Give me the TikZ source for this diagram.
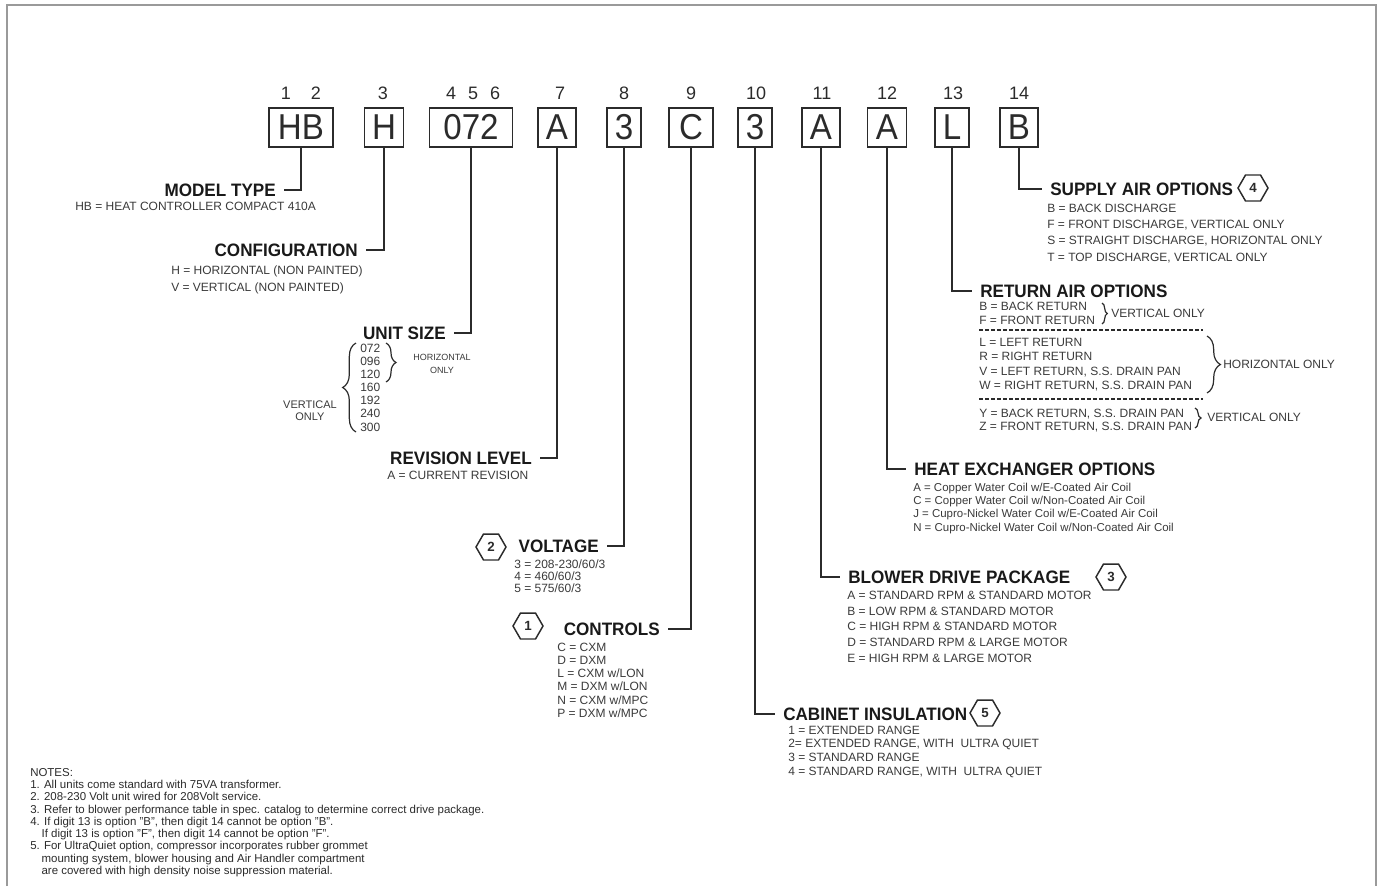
\documentclass[tikz,border=0pt]{standalone}
\usepackage{fontspec}
\setmainfont{Liberation Sans}
\newfontfamily\condfont{Liberation Sans}[FakeStretch=0.92]
\newfontfamily\headfont{Liberation Sans}[FakeStretch=0.95]
\usetikzlibrary{shapes.geometric,decorations.pathreplacing}
\definecolor{ink}{HTML}{2B2B2B}
\definecolor{txt}{HTML}{3A3A3A}
\definecolor{rule}{HTML}{9A9A9A}
\newcommand\px{0.75pt}

\begin{document}
\begin{tikzpicture}[
  x=0.75pt, y=-0.75pt,
  lead/.style={draw=ink, line width=1.4pt},
  codebox/.style={draw=ink, line width=1.3pt, minimum height=39*\px,
    inner sep=0pt, text=ink, font=\condfont\fontsize{27}{27}\selectfont},
  digitlabel/.style={inner sep=0pt, text=ink, font=\fontsize{13.5}{14}\selectfont},
  head/.style={inner xsep=6pt, inner ysep=0pt, text=black!90,
    font=\headfont\bfseries\fontsize{13.5}{16}\selectfont},
  sub/.style={anchor=north west, align=left, inner sep=0pt, text=txt,
    font=\fontsize{9}{#1}\selectfont},
  sub/.default=12,
  hexmark/.style={regular polygon, regular polygon sides=6, draw=ink,
    line width=1.1pt, minimum size=30*\px, inner sep=0pt, text=ink,
    font=\bfseries\fontsize{10}{10}\selectfont},
  curly/.style={draw=ink, line width=0.9pt, decorate,
    decoration={brace, amplitude=#1}},
  sep/.style={draw=ink, line width=1pt, dash pattern=on 3pt off 1.5pt}
]
\useasboundingbox (0,0) rectangle (1377,886);
\draw[rule, line width=1.5pt] (7,886) -- (7,5) -- (1376,5) -- (1376,886);

% digit positions
\foreach \n/\x in {1/286,2/316,3/383,4/451,5/473,6/495,7/560,8/624,
    9/691,10/756,11/822,12/887,13/953,14/1019}
  \node[digitlabel] (n\n) at (\x,93) {\n};

\node[codebox, minimum width=64*\px] (b1) at (301,127.5) {HB};
\node[codebox, minimum width=39*\px] (b3) at (384,127.5) {H};
\node[codebox, minimum width=83*\px] (b4) at (471,127.5) {072};
\node[codebox, minimum width=38*\px] (b7) at (557,127.5) {A};
\node[codebox, minimum width=34*\px] (b8) at (624,127.5) {3};
\node[codebox, minimum width=44*\px] (b9) at (691,127.5) {C};
\node[codebox, minimum width=34*\px] (b10) at (755,127.5) {3};
\node[codebox, minimum width=38*\px] (b11) at (821,127.5) {A};
\node[codebox, minimum width=39*\px] (b12) at (887,127.5) {A};
\node[codebox, minimum width=34*\px] (b13) at (952,127.5) {L};
\node[codebox, minimum width=38*\px] (b14) at (1019,127.5) {B};

% left hand headings
\node[head, anchor=east] (model) at (284,190) {MODEL TYPE};
\node[sub] (model-sub) at (75,201.6) {HB = HEAT CONTROLLER COMPACT 410A};

\node[head, anchor=east] (config) at (366,250) {CONFIGURATION};
\node[sub=12.75] (config-sub) at (171,265.6)
  {H = HORIZONTAL (NON PAINTED)\\V = VERTICAL (NON PAINTED)};

\node[head, anchor=east] (usize) at (454,333) {UNIT SIZE};
\node[sub=9.86] (usize-sub) at (360,343.6)
  {072\\096\\120\\160\\192\\240\\300};
\draw[curly=7.5pt] (386,343) -- (386,382);
\draw[curly=10pt] (356,432) -- (356,343);
\node[align=center, inner sep=0pt, text=txt, font=\fontsize{6.75}{9.75}\selectfont]
  (horiz) at (442,364) {HORIZONTAL\\ONLY};
\node[align=center, inner sep=0pt, text=txt, font=\fontsize{8.25}{9}\selectfont]
  (vert) at (310,411) {VERTICAL\\ONLY};

\node[head, anchor=east] (revision) at (540,458) {REVISION LEVEL};
\node[sub] (revision-sub) at (387,470.6) {A = CURRENT REVISION};

\node[head, anchor=east] (voltage) at (607,546) {VOLTAGE};
\node[hexmark] (hx2) at (491,547) {2};
\node[sub=9] (voltage-sub) at (514,559.6)
  {3 = 208-230/60/3\\4 = 460/60/3\\5 = 575/60/3};

\node[head, anchor=east] (controls) at (668,629) {CONTROLS};
\node[hexmark] (hx1) at (528,626) {1};
\node[sub=9.9] (controls-sub) at (557,642.6)
  {C = CXM\\D = DXM\\L = CXM w/LON\\M = DXM w/LON\\N = CXM w/MPC\\P = DXM w/MPC};

% right hand headings
\node[head, anchor=west] (cabinet) at (775,714) {CABINET INSULATION};
\node[hexmark] (hx5) at (985,713) {5};
\node[sub=10.3] (cabinet-sub) at (788,725.6)
  {1 = EXTENDED RANGE\\2= EXTENDED RANGE, WITH~ ULTRA QUIET\\
   3 = STANDARD RANGE\\4 = STANDARD RANGE, WITH~ ULTRA QUIET};

\node[head, anchor=west] (blower) at (840,577) {BLOWER DRIVE PACKAGE};
\node[hexmark] (hx3) at (1111,577) {3};
\node[sub=11.85] (blower-sub) at (847,590.6)
  {A = STANDARD RPM \& STANDARD MOTOR\\B = LOW RPM \& STANDARD MOTOR\\
   C = HIGH RPM \& STANDARD MOTOR\\D = STANDARD RPM \& LARGE MOTOR\\
   E = HIGH RPM \& LARGE MOTOR};

\node[head, anchor=west] (heatex) at (906,469) {HEAT EXCHANGER OPTIONS};
\node[sub=10, font=\fontsize{8.6}{10}\selectfont] (heatex-sub) at (913,482.6)
  {A = Copper Water Coil w/E-Coated Air Coil\\
   C = Copper Water Coil w/Non-Coated Air Coil\\
   J = Cupro-Nickel Water Coil w/E-Coated Air Coil\\
   N = Cupro-Nickel Water Coil w/Non-Coated Air Coil};

\node[head, anchor=west] (retair) at (972,291) {RETURN AIR OPTIONS};
\node[sub=10.5] (retair-a) at (979,301.6) {B = BACK RETURN\\F = FRONT RETURN};
\draw[curly=4pt] (1102,303) -- (1102,324);
\node[anchor=west, inner sep=0pt, text=txt, font=\fontsize{9}{9}\selectfont]
  (retair-va) at (1111,313) {VERTICAL ONLY};
\coordinate (sepa-l) at (979,330);
\coordinate (sepa-r) at (1203,330);
\draw[sep] (sepa-l) -- (sepa-r);
\node[sub=10.95] (retair-b) at (979,337.6)
  {L = LEFT RETURN\\R = RIGHT RETURN\\V = LEFT RETURN, S.S. DRAIN PAN\\
   W = RIGHT RETURN, S.S. DRAIN PAN};
\draw[curly=10pt] (1207,336) -- (1207,393);
\node[anchor=west, inner sep=0pt, text=txt, font=\fontsize{9}{9}\selectfont]
  (retair-h) at (1223,364) {HORIZONTAL ONLY};
\coordinate (sepb-l) at (979,399);
\coordinate (sepb-r) at (1203,399);
\draw[sep] (sepb-l) -- (sepb-r);
\node[sub=10.1] (retair-c) at (979,408.6)
  {Y = BACK RETURN, S.S. DRAIN PAN\\Z = FRONT RETURN, S.S. DRAIN PAN};
\draw[curly=4.5pt] (1195,408) -- (1195,428);
\node[anchor=west, inner sep=0pt, text=txt, font=\fontsize{9}{9}\selectfont]
  (retair-vb) at (1207,417) {VERTICAL ONLY};

\node[head, anchor=west] (supair) at (1042,189) {SUPPLY AIR OPTIONS};
\node[hexmark] (hx4) at (1253,188) {4};
\node[sub=12.2] (supair-sub) at (1047,203.6)
  {B = BACK DISCHARGE\\F = FRONT DISCHARGE, VERTICAL ONLY\\
   S = STRAIGHT DISCHARGE, HORIZONTAL ONLY\\T = TOP DISCHARGE, VERTICAL ONLY};

% leaders
\draw[lead] (b1.south) |- (model.east);
\draw[lead] (b3.south) |- (config.east);
\draw[lead] (b4.south) |- (usize.east);
\draw[lead] (b7.south) |- (revision.east);
\draw[lead] (b8.south) |- (voltage.east);
\draw[lead] (b9.south) |- (controls.east);
\draw[lead] (b10.south) |- (cabinet.west);
\draw[lead] (b11.south) |- (blower.west);
\draw[lead] (b12.south) |- (heatex.west);
\draw[lead] (b13.south) |- (retair.west);
\draw[lead] (b14.south) |- (supair.west);

\node[sub=9.2, font=\fontsize{8.6}{9.2}\selectfont, text=ink] (notes) at (30,768)
  {NOTES:\\
   1. All units come standard with 75VA transformer.\\
   2. 208-230 Volt unit wired for 208Volt service.\\
   3. Refer to blower performance table in spec. catalog to determine correct drive package.\\
   4. If digit 13 is option "B", then digit 14 cannot be option "B".\\
   \hspace*{8.5pt}If digit 13 is option "F", then digit 14 cannot be option "F".\\
   5. For UltraQuiet option, compressor incorporates rubber grommet\\
   \hspace*{8.5pt}mounting system, blower housing and Air Handler compartment\\
   \hspace*{8.5pt}are covered with high density noise suppression material.};
\end{tikzpicture}
\end{document}
